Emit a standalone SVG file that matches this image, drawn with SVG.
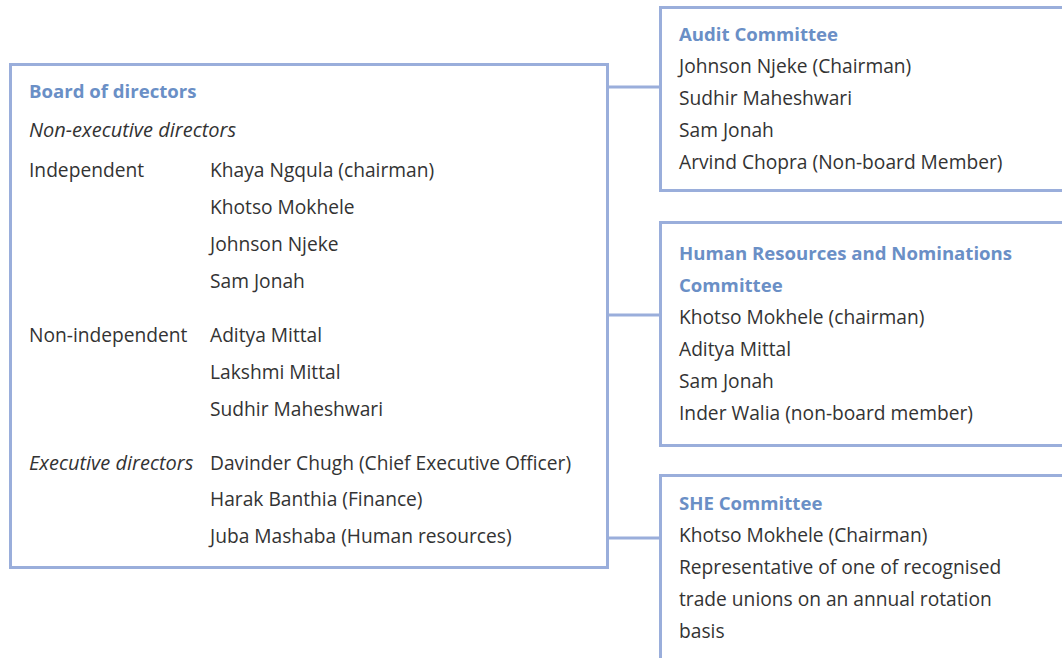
<svg xmlns="http://www.w3.org/2000/svg" width="1062" height="658" viewBox="0 0 1062 658">
  <style>
    .box { fill: #ffffff; stroke: #9aaedb; stroke-width: 3; }
    .link { fill: none; stroke: #9aaedb; stroke-width: 3; }
    text { font-family: "Open Sans", "Noto Sans", sans-serif; font-size: 19.2px; fill: #333333; }
    .title { font-weight: bold; font-size: 18.6px; fill: #6a8fc6; }
    .it { font-style: italic; font-size: 20px; }
  </style>
  <rect width="1062" height="658" fill="#ffffff"/>

  <g id="connectors">
    <path class="link" d="M608 87 H660 M608 315 H660 M608 538 H660"/>
  </g>

  <g id="board">
    <rect class="box" x="10.5" y="64.5" width="597" height="503"/>
    <text class="title" x="29" y="98">Board of directors</text>
    <text class="it" x="29" y="137">Non-executive directors</text>
    <text x="29" y="177">Independent</text>
    <text x="210" y="177">Khaya Ngqula (chairman)</text>
    <text x="210" y="214">Khotso Mokhele</text>
    <text x="210" y="251">Johnson Njeke</text>
    <text x="210" y="288">Sam Jonah</text>
    <text x="29" y="342">Non-independent</text>
    <text x="210" y="342">Aditya Mittal</text>
    <text x="210" y="379">Lakshmi Mittal</text>
    <text x="210" y="416">Sudhir Maheshwari</text>
    <text class="it" x="29" y="470">Executive directors</text>
    <text x="210" y="470">Davinder Chugh (Chief Executive Officer)</text>
    <text x="210" y="506">Harak Banthia (Finance)</text>
    <text x="210" y="543">Juba Mashaba (Human resources)</text>
  </g>

  <g id="audit">
    <rect class="box" x="660.5" y="7.5" width="410" height="183"/>
    <text class="title" x="679" y="41">Audit Committee</text>
    <text x="679" y="73">Johnson Njeke (Chairman)</text>
    <text x="679" y="105">Sudhir Maheshwari</text>
    <text x="679" y="137">Sam Jonah</text>
    <text x="679" y="169">Arvind Chopra (Non-board Member)</text>
  </g>

  <g id="hr">
    <rect class="box" x="660.5" y="222.5" width="410" height="223"/>
    <text class="title" x="679" y="260">Human Resources and Nominations</text>
    <text class="title" x="679" y="292">Committee</text>
    <text x="679" y="324">Khotso Mokhele (chairman)</text>
    <text x="679" y="356">Aditya Mittal</text>
    <text x="679" y="388">Sam Jonah</text>
    <text x="679" y="420">Inder Walia (non-board member)</text>
  </g>

  <g id="she">
    <rect class="box" x="660.5" y="475.5" width="410" height="200"/>
    <text class="title" x="679" y="510">SHE Committee</text>
    <text x="679" y="542">Khotso Mokhele (Chairman)</text>
    <text x="679" y="574">Representative of one of recognised</text>
    <text x="679" y="606">trade unions on an annual rotation</text>
    <text x="679" y="638">basis</text>
  </g>
</svg>
